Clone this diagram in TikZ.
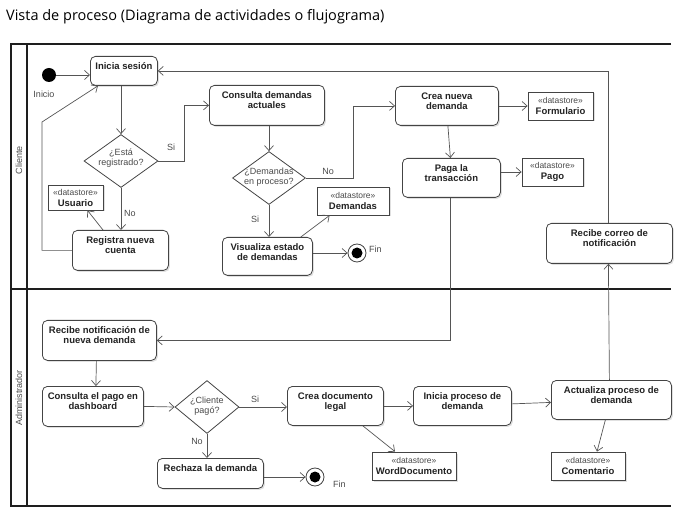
\documentclass[tikz,border=0pt]{standalone}
\usepackage{fontspec}
\setmainfont{Liberation Sans}
\newfontfamily\titlefont{Open Sans}
\usetikzlibrary{arrows.meta,shapes.geometric,shadows}
\definecolor{boxc}{HTML}{444444}
\definecolor{linec}{HTML}{555555}
\definecolor{framec}{HTML}{1E1E1E}
\definecolor{txtc}{HTML}{222222}
\definecolor{lblc}{HTML}{4A4A4A}
\newcommand\actnode[6]{\node[act, anchor=north west] (#1) at (#2,#3)
  {\parbox[c][#5pt][t]{#4pt}{\centering\rule{0pt}{13pt}#6}};}
\tikzset{
  act/.style={draw=boxc, line width=0.8pt, rounded corners=5pt, fill=white,
    inner sep=0pt, text=txtc, font=\bfseries\fontsize{9.5}{10.5}\selectfont,
    drop shadow={shadow xshift=1.5pt, shadow yshift=-1.5pt, fill=black, opacity=0.12}},
  store/.style={draw=boxc, line width=0.8pt, fill=white, inner sep=0pt, align=center,
    text=txtc, font=\fontsize{9.5}{11}\selectfont,
    drop shadow={shadow xshift=1.5pt, shadow yshift=-1.5pt, fill=black, opacity=0.12}},
  dec/.style={draw=boxc, line width=0.8pt, shape=diamond, fill=white, inner sep=0pt},
  dtxt/.style={align=center, text=lblc, font=\fontsize{9}{10}\selectfont, inner sep=0pt},
  arr/.style={draw=linec, line width=0.7pt, ->, >={Straight Barb[length=5pt,width=9pt]}},
  lbl/.style={text=lblc, font=\fontsize{9}{10}\selectfont, inner sep=0pt},
  frame/.style={draw=framec, line width=1.6pt},
  startc/.style={circle, fill=black, minimum size=14pt, inner sep=0pt},
  endc/.style={circle, draw=boxc, line width=0.8pt, fill=white, minimum size=18pt, inner sep=0pt,
    path picture={\fill[black] (path picture bounding box.center) circle (5.5pt);}},
}
\newcommand\dstore[1]{{\fontsize{8.5}{11}\selectfont\color{lblc}«datastore»}\\\textbf{#1}}
\begin{document}
\begin{tikzpicture}[x=1pt, y=-1pt]
\useasboundingbox (0,0) rectangle (693,518);
% title
\node[anchor=west, inner sep=0pt, font=\titlefont\fontsize{14.5}{16}\selectfont, text=black] (title) at (6,17)
  {Vista de proceso (Diagrama de actividades o flujograma)};
% frame
\draw[frame] (671,44) -- (11,44) -- (11,506) -- (671,506);
\draw[frame] (27,44) -- (27,506);
\draw[frame] (11,289) -- (671,289);
\node[lbl, rotate=90] (lcli) at (19,160) {Cliente};
\node[lbl, rotate=90] (ladm) at (19,398) {Administrador};

% Cliente lane
\node[startc] (start) at (49,75) {};
\node[lbl] (inicio) at (44,94) {Inicio};
\actnode{ini}{90}{56}{67}{29}{Inicia sesión}
\node[dec, minimum width=74pt, minimum height=53pt,
  label={[dtxt, yshift=3pt]center:{¿Está\\registrado?}}] (d1) at (121,161) {};
\node[store, minimum width=55pt, minimum height=25pt] (usu) at (75.5,197.5) {\dstore{Usuario}};
\actnode{reg}{72}{230}{96}{40}{Registra nueva\\cuenta}
\actnode{con}{209}{85}{115}{40}{Consulta demandas\\actuales}
\node[dec, minimum width=73pt, minimum height=53pt,
  label={[dtxt, yshift=1pt]center:{¿Demandas\\en proceso?}}] (d2) at (269,178) {};
\node[store, minimum width=72pt, minimum height=28pt] (dem) at (353,201) {\dstore{Demandas}};
\actnode{vis}{222}{237}{90}{38}{Visualiza estado\\de demandas}
\node[endc] (fin1) at (357,253) {};
\node[lbl, anchor=west] (fint1) at (369,249) {Fin};
\actnode{cre}{395}{86}{103}{39}{Crea nueva\\demanda}
\node[store, minimum width=65pt, minimum height=28pt] (frm) at (560.5,106) {\dstore{Formulario}};
\actnode{pag}{402}{158}{98}{39}{Paga la\\transacción}
\node[store, minimum width=61pt, minimum height=28pt] (pgo) at (552.5,172) {\dstore{Pago}};
\actnode{rco}{546}{223}{126}{40}{Recibe correo de\\notificación}

% Administrador lane
\actnode{rn}{42}{320}{114}{40}{Recibe notificación de\\nueva demanda}
\actnode{cp}{42}{386}{101}{40}{Consulta el pago en\\dashboard}
\node[dec, minimum width=64pt, minimum height=53pt,
  label={[dtxt, yshift=1pt]center:{¿Cliente\\pagó?}}] (d3) at (207,407) {};
\actnode{rch}{157}{458}{106}{30}{Rechaza la demanda}
\node[endc] (fin2) at (315,477) {};
\node[lbl, anchor=west] (fint2) at (333,484) {Fin};
\actnode{cdl}{287}{386}{96}{39}{Crea documento\\legal}
\actnode{ipd}{413}{386}{98}{39}{Inicia proceso de\\demanda}
\actnode{apd}{551}{380}{120}{39}{Actualiza proceso de\\demanda}
\node[store, minimum width=84pt, minimum height=28pt] (wrd) at (414,466) {\dstore{WordDocumento}};
\node[store, minimum width=74pt, minimum height=28pt] (com) at (588,466) {\dstore{Comentario}};

% connectors
\draw[arr] (start) -- (ini.west |- start);
\draw[arr] (ini.south -| d1) -- (d1.north);
\draw[arr] (d1.south) -- (reg.north -| d1);
\node[lbl] (lno1) at (130,213) {No};
\draw[arr] ([xshift=31pt]reg.north west) -- ([xshift=12pt]usu.south);
\draw[arr] (reg.west) -| (42,122) -- ([xshift=8pt]ini.south west);
\draw[arr] (d1.east) -- (184,161) |- (con.west);
\node[lbl] (lsi1) at (171,147) {Si};
\draw[arr] (con.south -| d2) -- (d2.north);
\draw[arr] (d2.south) -- (vis.north -| d2);
\node[lbl] (lsi2) at (255,219) {Si};
\draw[arr] (d2.east) -- (353,178) |- (cre.west);
\node[lbl] (lno2) at (328,171) {No};
\draw[arr] ([xshift=-12pt]vis.north east) -- ([xshift=13pt]dem.south west);
\draw[arr] (vis.east |- fin1) -- (fin1.west);
\draw[arr] (cre.east |- frm) -- (frm.west);
\draw[arr] ([xshift=1pt]cre.south) -- ([xshift=-1pt]pag.north);
\draw[arr] (pag.east |- pgo) -- (pgo.west);
\draw[arr] ([xshift=-1pt]pag.south) |- (rn.east);
\draw[arr] ([xshift=-3pt]rn.south) -- ([xshift=3pt]cp.north);
\draw[arr] (cp.east) -- (d3.west);
\draw[arr] (d3.south) -- (rch.north -| d3);
\node[lbl] (lno3) at (197,441) {No};
\draw[arr] (d3.east) -- (cdl.west |- d3);
\node[lbl] (lsi3) at (255,399) {Si};
\draw[arr] (cdl.east) -- (ipd.west);
\draw[arr] ([yshift=2pt]ipd.east) -- ([yshift=-2.5pt]apd.west);
\draw[arr] ([xshift=-21pt]cdl.south east) -- ([xshift=-19pt]wrd.north);
\draw[arr] ([xshift=-6pt]apd.south) -- ([xshift=9pt]com.north);
\draw[arr] ([xshift=-2pt]apd.north) -- ([xshift=-1pt]rco.south);
\draw[arr] ([xshift=-1pt]rco.north) |- (ini.east);
\draw[arr] (rch.east |- fin2) -- (fin2.west);
\end{tikzpicture}
\end{document}
